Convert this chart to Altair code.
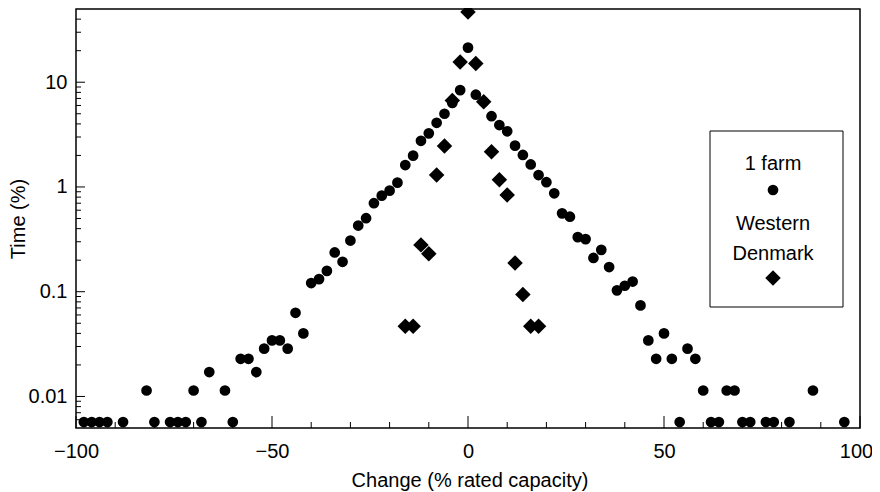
import altair as alt
import pandas as pd

# ---- data ----
farm_change = [-98, -96, -94, -92, -88, -82, -80, -76, -74, -72, -70, -68, -66, -62, -60,
               -58, -56, -54, -52, -50, -48, -46, -44, -42, -40, -38, -36, -34, -32, -30,
               -28, -26, -24, -22, -20, -18, -16, -14, -12, -10, -8, -6, -4, -2, 0,
               2, 4, 6, 8, 10, 12, 14, 16, 18, 20, 22, 24, 26, 28, 30,
               32, 34, 36, 38, 40, 42, 44, 46, 48, 50, 52, 54, 56, 58, 60,
               62, 64, 66, 68, 70, 72, 76, 78, 82, 88, 96]
farm_time = [0.0057, 0.0057, 0.0057, 0.0057, 0.0057, 0.0114, 0.0057, 0.0057, 0.0057, 0.0057, 0.0114, 0.0057, 0.0171, 0.0114, 0.0057,
             0.0229, 0.0229, 0.0171, 0.0286, 0.0343, 0.0343, 0.0286, 0.0629, 0.040, 0.121, 0.132, 0.158, 0.237, 0.193, 0.308,
             0.428, 0.503, 0.70, 0.826, 0.922, 1.10, 1.62, 1.99, 2.76, 3.25, 4.1, 5.0, 6.35, 8.4, 21.4,
             7.6, 6.5, 4.74, 3.9, 3.4, 2.48, 2.02, 1.64, 1.30, 1.11, 0.87, 0.56, 0.52, 0.332, 0.318,
             0.21, 0.251, 0.172, 0.103, 0.114, 0.125, 0.074, 0.0343, 0.0229, 0.040, 0.0229, 0.0057, 0.0286, 0.0229, 0.0114,
             0.0057, 0.0057, 0.0114, 0.0114, 0.0057, 0.0057, 0.0057, 0.0057, 0.0057, 0.0114, 0.0057]

dk_change = [-16, -14, -12, -10, -8, -6, -4, -2, 0, 2, 4, 6, 8, 10, 12, 14, 16, 18]
dk_time = [0.0467, 0.0467, 0.28, 0.23, 1.30, 2.46, 6.7, 15.6, 46.7, 15.1, 6.5, 2.17, 1.17, 0.84, 0.188, 0.094, 0.0467, 0.0467]

series_names = ["1 farm", "Western", "Denmark"]
x_title = ["Change (% rated capacity)"]

x_major = [-100, -50, 0, 50, 100]
x_minor = [-90, -80, -70, -60, -40, -30, -20, -10, 10, 20, 30, 40, 60, 70, 80, 90]
y_major = [0.01, 0.1, 1, 10]
y_minor = [0.006, 0.007, 0.008, 0.009,
           0.02, 0.03, 0.04, 0.05, 0.06, 0.07, 0.08, 0.09,
           0.2, 0.3, 0.4, 0.5, 0.6, 0.7, 0.8, 0.9,
           2, 3, 4, 5, 6, 7, 8, 9, 20, 30, 40]

# ---- layout ----
W, H = 784, 419
FONT = "Liberation Sans"
FS = 20

xs = alt.Scale(domain=[-100, 100], nice=False, zero=False)
ys = alt.Scale(type="log", domain=[0.005, 50], nice=False)

xaxis = alt.Axis(values=x_major, title=None, grid=False, ticks=False,
                 domain=False, labelFont=FONT, labelFontSize=FS, labelColor="black",
                 labelPadding=13, labelFlush=False,
                 labelOffset={"condition": {"test": "datum.value == 100", "value": -4}, "value": 0})
yaxis = alt.Axis(values=y_major, format="~g", title="Time (%)", grid=False, ticks=False,
                 domain=False, labelFont=FONT, labelFontSize=FS, labelColor="black",
                 labelPadding=9, labelFlush=False, titleFont=FONT, titleFontSize=FS,
                 titleColor="black", titleFontWeight="normal", titlePadding=0)

farm_df = pd.DataFrame({"change": farm_change, "time": farm_time})
dk_df = pd.DataFrame({"change": dk_change, "time": dk_time})

farm = alt.Chart(farm_df).mark_point(shape="circle", filled=True, size=115, color="black",
                                     opacity=1, clip=False).encode(
    x=alt.X("change:Q", scale=xs, axis=xaxis),
    y=alt.Y("time:Q", scale=ys, axis=yaxis),
)
dk = alt.Chart(dk_df).mark_point(shape="diamond", filled=True, size=240, color="black",
                                 opacity=1, clip=False).encode(
    x=alt.X("change:Q", scale=xs, axis=xaxis),
    y=alt.Y("time:Q", scale=ys, axis=yaxis),
)

xmaj = alt.Chart(pd.DataFrame({"change": x_major})).mark_rule(color="black", strokeWidth=1).encode(
    x=alt.X("change:Q", scale=xs, axis=xaxis), y=alt.value(H), y2=alt.value(H - 12))
xmin = alt.Chart(pd.DataFrame({"change": x_minor})).mark_rule(color="black", strokeWidth=1).encode(
    x=alt.X("change:Q", scale=xs, axis=xaxis), y=alt.value(H), y2=alt.value(H - 6))
ymaj = alt.Chart(pd.DataFrame({"time": y_major})).mark_rule(color="black", strokeWidth=1).encode(
    y=alt.Y("time:Q", scale=ys, axis=yaxis), x=alt.value(0), x2=alt.value(9))
ymin = alt.Chart(pd.DataFrame({"time": y_minor})).mark_rule(color="black", strokeWidth=1).encode(
    y=alt.Y("time:Q", scale=ys, axis=yaxis), x=alt.value(0), x2=alt.value(5))

xtitle = alt.Chart(pd.DataFrame({"t": x_title})).mark_text(
    font=FONT, fontSize=FS, color="black", align="center", baseline="alphabetic").encode(
    x=alt.value(W / 2 + 2), y=alt.value(H + 59), text="t:N")

# ---- legend box ----
names_df = pd.DataFrame({"name": series_names})
box = alt.Chart(names_df.head(1)).mark_rect(fill="white", stroke="black", strokeWidth=1).encode(
    x=alt.value(634), x2=alt.value(767), y=alt.value(122), y2=alt.value(298))

def label(i, ypix):
    return alt.Chart(names_df.iloc[[i]]).mark_text(
        font=FONT, fontSize=FS, color="black", align="center", baseline="alphabetic").encode(
        x=alt.value(697), y=alt.value(ypix), text="name:N")

lab1 = label(0, 161)
lab2 = label(1, 221)
lab3 = label(2, 251)
sym1 = alt.Chart(names_df.iloc[[0]]).mark_point(shape="circle", filled=True, size=115,
                                                  color="black", opacity=1).encode(
    x=alt.value(697), y=alt.value(181))
sym2 = alt.Chart(names_df.iloc[[1]]).mark_point(shape="diamond", filled=True, size=240,
                                                  color="black", opacity=1).encode(
    x=alt.value(697), y=alt.value(269))

chart = alt.layer(xmaj, xmin, ymaj, ymin, box, lab1, lab2, lab3, sym1, sym2, xtitle, farm, dk).properties(
    width=W, height=H,
    autosize=alt.AutoSizeParams(type="none"),
    padding={"left": 68, "top": 1, "right": 12, "bottom": 64},
    background="white",
).configure_view(stroke="black", strokeWidth=1.5)

chart.save("out.html", embed_options={"renderer": "svg", "actions": False})
